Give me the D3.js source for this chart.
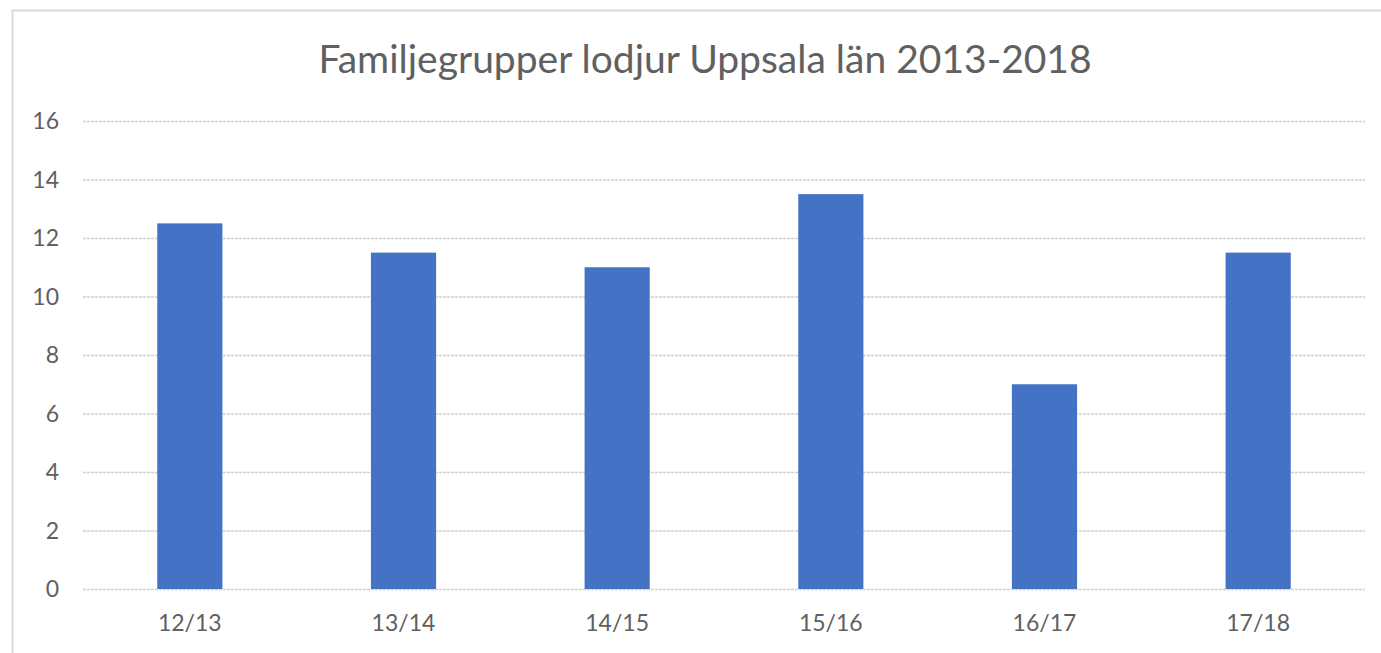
<!DOCTYPE html>
<html><head><meta charset="utf-8">
<script src="https://cdn.jsdelivr.net/npm/d3@7"></script>
<style>body{margin:0;background:#fff;}svg{display:block;}</style>
</head><body>
<svg id="chart" width="1381" height="653"></svg>
<script>
const titleText = "Familjegrupper lodjur Uppsala län 2013-2018";
const categories = ["12/13","13/14","14/15","15/16","16/17","17/18"];
const values = [12.5, 11.5, 11, 13.5, 7, 11.5];
const yTicks = [0,2,4,6,8,10,12,14,16];

const svg = d3.select("#chart");
const font = "Lato, 'Open Sans', sans-serif";
const textColor = "#606060";

// chart frame
svg.append("path").attr("d","M12.5,653 V10.5 H1381")
  .attr("fill","none").attr("stroke","#d9d9d9").attr("stroke-width",2);

const x = d3.scaleBand().domain(categories).range([83,1365]).paddingInner(0.695).paddingOuter(0.3475);
const y = d3.scaleLinear().domain([0,16]).range([589,121]);

// gridlines
svg.append("g").selectAll("line").data(yTicks).join("line")
  .attr("x1",83).attr("x2",1365)
  .attr("y1",d=>y(d)+0.5).attr("y2",d=>y(d)+0.5)
  .attr("stroke","#d0d0d0").attr("stroke-width",1.5).attr("stroke-dasharray","3,1");

// y labels
svg.append("g").selectAll("text").data(yTicks).join("text")
  .attr("x",59).attr("y",d=>y(d)).attr("dy","0.36em")
  .attr("text-anchor","end").attr("font-family",font).attr("font-size",23)
  .attr("fill",textColor).text(d=>d);

// bars
svg.append("g").selectAll("rect").data(values).join("rect")
  .attr("x",(d,i)=>x(categories[i])).attr("width",x.bandwidth())
  .attr("y",d=>y(d)).attr("height",d=>y(0)-y(d))
  .attr("fill","#4472C4");

// x labels
svg.append("g").selectAll("text").data(categories).join("text")
  .attr("x",d=>x(d)+x.bandwidth()/2).attr("y",631)
  .attr("text-anchor","middle").attr("font-family",font).attr("font-size",23)
  .attr("fill",textColor).text(d=>d);

// title
svg.append("text").attr("x",705).attr("y",73).attr("text-anchor","middle")
  .attr("font-family",font).attr("font-size",39).attr("fill",textColor).text(titleText);
</script>
</body></html>
